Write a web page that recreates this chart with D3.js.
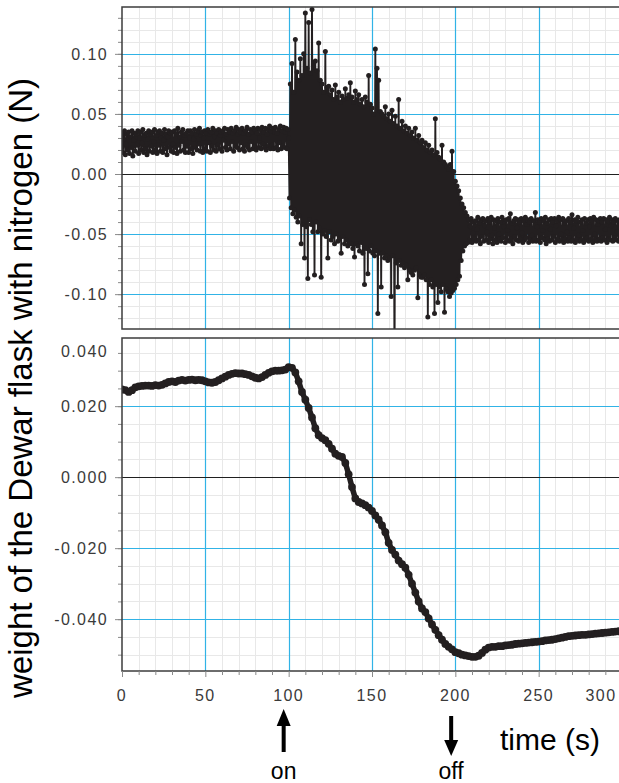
<!DOCTYPE html>
<html>
<head>
<meta charset="utf-8">
<script src="https://cdn.jsdelivr.net/npm/d3@7"></script>
<style>
  html, body { margin: 0; padding: 0; background: #fff; }
  svg { display: block; }
</style>
</head>
<body>
<svg id="chart" width="619" height="783"></svg>
<script>
// ---- data -------------------------------------------------------------
// Tick values
const tickTime = [0, 50, 100, 150, 200, 250, 300];
const tickForceRaw = [-0.10, -0.05, 0.00, 0.05, 0.10];
const tickForceSmooth = [-0.040, -0.020, 0.000, 0.020, 0.040];

// Raw force readings (mN), two samples per second
const rawStep = 0.5;
// 0–99.5 s: before the heater is switched on
const rawBefore = [
  34,18,29,36,16,25,33,20,35,17,  31,22,36,15,28,34,19,33,24,36,
  17,30,35,20,26,37,18,32,21,34,  16,29,36,19,33,23,35,18,27,37,
  20,32,17,35,24,36,19,30,34,18,  28,37,21,33,16,31,36,22,34,19,
  35,25,18,36,22,33,17,38,24,31,  19,35,27,37,20,32,18,34,23,36,
  18,30,36,21,34,17,29,37,22,33,  20,36,25,38,19,32,35,18,30,36,
  21,34,19,37,26,33,18,35,23,38,  20,31,36,19,34,24,37,21,32,35,
  19,36,28,38,22,33,20,37,25,35,  21,38,27,34,19,36,23,39,22,33,
  37,20,35,26,38,21,34,19,36,24,  39,22,33,20,37,27,35,21,38,23,
  36,20,34,38,22,30,37,21,39,25,  35,22,38,20,33,37,23,40,21,36,
  24,38,21,35,39,22,34,20,37,26,  40,21,36,23,39,22,35,38,21,37
];
// 100–207.5 s: boiling
const rawDuring = [
  30,-20,75,-28,92,-33,68,-30,112,-36,   85,-40,78,-35,96,-58,82,-42,100,-70,
  134,-44,88,-87,126,-38,84,-42,137,-48, 92,-84,94,-40,86,-48,109,-45,78,-86,
  75,-50,68,-47,102,-52,72,-70,73,-48,   66,-55,70,-52,62,-58,74,-50,64,-56,
  68,-54,60,-66,65,-52,62,-58,71,-55,    63,-60,66,-57,76,-58,64,-62,60,-69,
  69,-58,62,-60,66,-64,58,-57,62,-66,    56,-92,64,-62,60,-83,82,-64,58,-60,
  55,-66,50,-68,104,-64,88,-116,78,-66,  52,-94,50,-66,48,-70,56,-68,46,-72,
  50,-70,44,-102,53,-68,42,-160,48,-74,  40,-94,62,-72,38,-76,44,-74,36,-78,
  40,-76,34,-88,38,-80,32,-82,35,-84,    30,-80,38,-78,28,-103,32,-84,26,-86,
  28,-86,22,-84,26,-88,20,-119,24,-92,   18,-88,20,-94,16,-116,46,-92,18,-107,
  14,-94,12,-98,24,-92,10,-115,8,-96,    6,-98,4,-102,8,-99,19,-97,2,-95,
  -6,-92,-10,-88,-14,-85,-20,-72,-25,-64,
  -28,-60,-32,-58,-35,-57
];
// 208–299.5 s: after the heater is switched off
const rawAfter = [
  -38,-55,-44,-37,-57,-49,-40,-54,-39,-56,  -46,-36,-55,-41,-58,-38,-52,-37,-56,-43,
  -39,-55,-48,-37,-57,-40,-54,-36,-51,-58,  -38,-45,-55,-39,-57,-37,-50,-54,-40,-56,
  -36,-53,-44,-39,-57,-38,-55,-47,-37,-56,  -33,-54,-41,-58,-39,-52,-37,-55,-45,-38,
  -56,-40,-54,-37,-49,-57,-39,-55,-36,-53,  -42,-38,-57,-40,-55,-37,-51,-56,-39,-54,
  -32,-56,-44,-38,-55,-40,-57,-37,-53,-47,  -39,-55,-36,-58,-41,-54,-38,-56,-46,-37,
  -55,-40,-52,-37,-57,-43,-39,-54,-36,-56,  -38,-50,-55,-37,-57,-41,-54,-39,-48,-56,
  -37,-53,-40,-56,-34,-55,-45,-38,-57,-39,  -54,-36,-51,-56,-40,-55,-38,-47,-57,-37,
  -55,-41,-53,-38,-56,-44,-37,-54,-39,-57,  -36,-50,-55,-38,-56,-42,-39,-54,-37,-56,
  -40,-53,-37,-55,-46,-38,-57,-39,-54,-36,  -55,-43,-38,-56,-40,-53,-37,-55,-48,-39,
  -56,-38,-54,-40
];

// Smoothed force (mN), one value every 2 s from 0 to 300 s
const smoothStep = 2;
const smoothed = [
  24.7,24.5,24.0,24.5,25.3,25.6,25.7,25.8,25.8,25.7,
  25.9,25.8,26.0,26.4,26.8,27.0,26.8,27.2,27.4,27.2,
  27.4,27.5,27.3,27.4,27.3,27.0,26.7,26.6,26.8,27.3,
  27.8,28.3,28.8,29.1,29.3,29.2,29.2,29.0,28.8,28.4,
  28.0,27.8,28.2,28.8,29.4,29.8,30.0,30.0,30.1,30.3,
  31.0,30.8,29.5,27.0,24.0,21.8,19.5,16.8,13.8,11.8,
  11.0,10.4,9.4,8.0,6.6,6.0,5.7,4.0,0.8,-2.8,
  -6.0,-7.0,-7.4,-7.9,-8.6,-9.5,-10.8,-12.0,-13.6,-15.5,
  -18.5,-20.5,-21.8,-23.5,-24.5,-25.5,-27.5,-30.0,-32.5,-35.0,
  -37.0,-38.0,-39.8,-41.5,-43.0,-44.5,-45.8,-47.0,-47.8,-48.5,
  -49.3,-49.6,-50.0,-50.2,-50.4,-50.6,-50.6,-50.3,-49.5,-48.6,
  -48.0,-47.8,-47.8,-47.6,-47.6,-47.4,-47.3,-47.2,-47.0,-46.9,
  -46.8,-46.7,-46.6,-46.5,-46.4,-46.3,-46.2,-46.0,-45.9,-45.8,
  -45.6,-45.4,-45.2,-45.0,-44.8,-44.7,-44.6,-44.5,-44.4,-44.4,
  -44.3,-44.2,-44.1,-44.0,-43.9,-43.8,-43.7,-43.6,-43.5,-43.4,
  -43.3
];

// Heater switching marks
const heaterEvents = [
  { label: "on",  time: 97,    direction: "up" },
  { label: "off", time: 197.5, direction: "down" }
];

// ---- layout -----------------------------------------------------------
const svg = d3.select("#chart");
const ink = "#231f20";
const gridBlue = "#31b3e6";
const gridMinor = "#e8e8e8";
const frameColor = "#3c3c3c";
const tickColor = "#8a8a8a";
const labelColor = "#3a3a3a";
const tickFont = "'Liberation Sans', Arial, sans-serif";
const titleFont = "'Liberation Sans', Arial, Helvetica, sans-serif";

const x = d3.scaleLinear().domain([0, 300]).range([122, 622]);
const yRaw = d3.scaleLinear().domain([-0.129, 0.139]).range([329, 7]);
const ySmooth = d3.scaleLinear().domain([-0.0546, 0.0392]).range([671, 338]);

const hyphenMinus = s => s.replace("\u2212", "-");
const fmtRaw = v => hyphenMinus(d3.format(".2f")(v));
const fmtSmooth = v => hyphenMinus(d3.format(".3f")(v));

const rawSeries = rawBefore.concat(rawDuring, rawAfter)
  .map((mN, i) => ({ t: i * rawStep, v: mN / 1000 }));
const smoothSeries = smoothed.map((mN, i) => ({ t: i * smoothStep, v: mN / 1000 }));

const minorTimes = d3.range(0, 31).map(k => k * 10).filter(t => t % 50 !== 0);
const snap = v => Math.round(v) + 0.5;

function drawPanel(id, y, minorVals, majorVals, fmt, labelTop) {
  const [yb, yt] = y.range();
  const [xl, xr] = x.range();
  const inDomain = v => v >= y.domain()[0] && v <= y.domain()[1];
  const g = svg.append("g");

  g.append("clipPath").attr("id", id)
    .append("rect").attr("x", xl).attr("y", yt).attr("width", xr - xl).attr("height", yb - yt);

  const minorGrid = g.append("g").attr("class", "grid-minor")
    .attr("stroke", gridMinor).attr("stroke-width", 1);
  minorGrid.selectAll("line.v").data(minorTimes).join("line").attr("class", "v")
    .attr("x1", d => snap(x(d))).attr("x2", d => snap(x(d)))
    .attr("y1", yt).attr("y2", yb);
  minorGrid.selectAll("line.h").data(minorVals).join("line").attr("class", "h")
    .attr("x1", xl).attr("x2", xr)
    .attr("y1", d => snap(y(d))).attr("y2", d => snap(y(d)));

  const majorGrid = g.append("g").attr("class", "grid-major")
    .attr("stroke", gridBlue).attr("stroke-width", 1.2);
  majorGrid.selectAll("line.v").data(tickTime.filter(t => t > 0)).join("line").attr("class", "v")
    .attr("x1", d => snap(x(d))).attr("x2", d => snap(x(d)))
    .attr("y1", yt).attr("y2", yb);
  majorGrid.selectAll("line.h").data(majorVals.filter(inDomain)).join("line").attr("class", "h")
    .attr("x1", xl).attr("x2", xr)
    .attr("y1", d => snap(y(d))).attr("y2", d => snap(y(d)));

  // zero line
  g.append("line")
    .attr("x1", xl).attr("x2", xr)
    .attr("y1", snap(y(0))).attr("y2", snap(y(0)))
    .attr("stroke", "#202020").attr("stroke-width", 1.2);

  // y axis ticks (minor and major)
  const axMinor = g.append("g").attr("transform", `translate(${xl},0)`)
    .call(d3.axisLeft(y).tickValues(minorVals).tickSize(4).tickFormat(""));
  const axMajor = g.append("g").attr("transform", `translate(${xl},0)`)
    .call(d3.axisLeft(y).tickValues(majorVals.filter(inDomain)).tickSize(7).tickFormat(""));
  [axMinor, axMajor].forEach(a => {
    a.select(".domain").remove();
    a.selectAll("line").attr("stroke", tickColor);
  });

  // y tick labels (kept inside the panel's height)
  g.selectAll("text.ylab").data(majorVals).join("text").attr("class", "ylab")
    .attr("x", 108)
    .attr("y", d => Math.max(y(d), yt + labelTop) + 6)
    .attr("text-anchor", "end")
    .attr("font-family", tickFont).attr("font-size", 16)
    .attr("letter-spacing", 1.4)
    .attr("fill", labelColor)
    .text(fmt);

  return g;
}

const gRaw = drawPanel("clipRaw", yRaw, d3.range(-12, 14).map(k => k / 100), tickForceRaw, fmtRaw, 13);
const gSmooth = drawPanel("clipSmooth", ySmooth, d3.range(-10, 8).map(k => k * 0.005), tickForceSmooth, fmtSmooth, 13);

// raw readings: points joined by lines
const rawLayer = gRaw.append("g").attr("clip-path", "url(#clipRaw)");
rawLayer.append("path").datum(rawSeries)
  .attr("fill", "none").attr("stroke", ink).attr("stroke-width", 1.9).attr("stroke-linejoin", "round")
  .attr("d", d3.line().x(d => x(d.t)).y(d => yRaw(d.v)));
rawLayer.selectAll("circle").data(rawSeries).join("circle")
  .attr("cx", d => x(d.t)).attr("cy", d => yRaw(d.v)).attr("r", 2.5).attr("fill", ink);

// smoothed readings
const smoothLayer = gSmooth.append("g").attr("clip-path", "url(#clipSmooth)");
smoothLayer.append("path").datum(smoothSeries)
  .attr("fill", "none").attr("stroke", ink).attr("stroke-width", 5.5).attr("stroke-linejoin", "round")
  .attr("d", d3.line().x(d => x(d.t)).y(d => ySmooth(d.v)));
smoothLayer.selectAll("circle").data(smoothSeries).join("circle")
  .attr("cx", d => x(d.t)).attr("cy", d => ySmooth(d.v)).attr("r", 3.9).attr("fill", ink);

// panel frames
[yRaw, ySmooth].forEach(y => {
  const [yb, yt] = y.range();
  const [xl, xr] = x.range();
  svg.append("rect")
    .attr("x", xl).attr("y", yt).attr("width", xr - xl).attr("height", yb - yt)
    .attr("fill", "none").attr("stroke", frameColor).attr("stroke-width", 1.5);
});

// time axis
const xAxisY = ySmooth.range()[0];
const axT1 = svg.append("g").attr("transform", `translate(0,${xAxisY})`)
  .call(d3.axisBottom(x).tickValues(minorTimes).tickSize(4).tickFormat(""));
const axT2 = svg.append("g").attr("transform", `translate(0,${xAxisY})`)
  .call(d3.axisBottom(x).tickValues(tickTime).tickSize(6).tickFormat(""));
[axT1, axT2].forEach(a => {
  a.select(".domain").remove();
  a.selectAll("line").attr("stroke", tickColor);
});
svg.selectAll("text.xlab").data(tickTime).join("text").attr("class", "xlab")
  .attr("x", d => Math.min(x(d), 601))
  .attr("y", 701)
  .attr("text-anchor", "middle")
  .attr("font-family", tickFont).attr("font-size", 16)
  .attr("letter-spacing", 1.4)
  .attr("fill", labelColor)
  .text(d => d);

// axis titles
svg.append("text")
  .attr("transform", "translate(32,388) rotate(-90)")
  .attr("text-anchor", "middle")
  .attr("font-family", titleFont)
  .attr("font-size", 33)
  .attr("fill", "#000")
  .text("weight of the Dewar flask with nitrogen (N)");

svg.append("text")
  .attr("x", 550).attr("y", 750)
  .attr("text-anchor", "middle")
  .attr("font-family", titleFont)
  .attr("font-size", 30)
  .attr("fill", "#000")
  .text("time (s)");

// heater on/off arrows
heaterEvents.forEach(ev => {
  const cx = x(ev.time);
  const g = svg.append("g").attr("fill", "#000");
  if (ev.direction === "up") {
    g.append("rect").attr("x", cx - 2).attr("y", 724).attr("width", 4).attr("height", 28);
    g.append("path").attr("d", `M${cx - 7},726 L${cx + 7},726 L${cx},709 Z`);
  } else {
    g.append("rect").attr("x", cx - 2).attr("y", 716).attr("width", 4).attr("height", 26);
    g.append("path").attr("d", `M${cx - 7},740 L${cx + 7},740 L${cx},756 Z`);
  }
  svg.append("text")
    .attr("x", cx).attr("y", 779)
    .attr("text-anchor", "middle")
    .attr("font-family", titleFont)
    .attr("font-size", 23)
    .attr("fill", "#000")
    .text(ev.label);
});
</script>
</body>
</html>
